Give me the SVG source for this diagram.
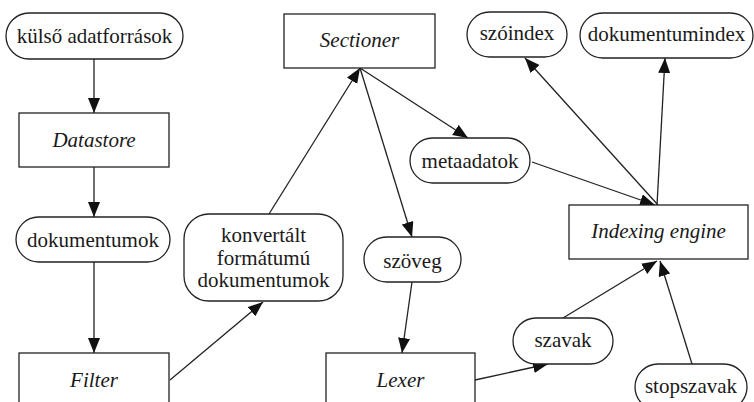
<svg xmlns="http://www.w3.org/2000/svg" width="754" height="402" viewBox="0 0 754 402">
  <style>
    .box { fill: #ffffff; stroke: #222222; stroke-width: 1.3; }
    .lbl { font-family: "Liberation Serif", "Times New Roman", serif; font-size: 21px; fill: #1a1a1a; text-anchor: middle; }
    .it { font-style: italic; }
    .edge { fill: none; stroke: #222222; stroke-width: 1.3; marker-end: url(#arrow); }
  </style>
  <defs>
    <!-- filled triangular arrowhead, tip on the line end -->
    <marker id="arrow" markerUnits="userSpaceOnUse" markerWidth="16" markerHeight="13" refX="15" refY="6" orient="auto">
      <path d="M0,0 L15,6 L0,12 z" fill="#111111"/>
    </marker>
  </defs>
  <rect width="754" height="402" fill="#ffffff"/>

  <g id="connectors">
    <line class="edge" x1="94" y1="59" x2="94" y2="113"/>
    <line class="edge" x1="94" y1="167" x2="94" y2="217"/>
    <line class="edge" x1="94" y1="262" x2="94" y2="353"/>
    <line class="edge" x1="170" y1="380" x2="263" y2="302"/>
    <line class="edge" x1="269" y1="214" x2="360" y2="68"/>
    <line class="edge" x1="360" y1="68" x2="468" y2="138"/>
    <line class="edge" x1="360" y1="68" x2="412" y2="237"/>
    <line class="edge" x1="412" y1="282" x2="402" y2="353"/>
    <line class="edge" x1="475" y1="380" x2="548" y2="364"/>
    <line class="edge" x1="563" y1="318" x2="657" y2="261"/>
    <line class="edge" x1="692" y1="364" x2="660" y2="261"/>
    <line class="edge" x1="532" y1="162" x2="655" y2="205"/>
    <line class="edge" x1="658" y1="205" x2="525" y2="58"/>
    <line class="edge" x1="657" y1="205" x2="665" y2="58"/>
  </g>

  <g id="kulso-adatforrasok">
    <rect class="box" x="6" y="13" width="177" height="46" rx="23"/>
    <text class="lbl" x="94.5" y="43">külső adatforrások</text>
  </g>
  <g id="datastore">
    <rect class="box" x="19" y="113" width="150" height="54"/>
    <text class="lbl it" x="94" y="147">Datastore</text>
  </g>
  <g id="dokumentumok">
    <rect class="box" x="16" y="217" width="154" height="45" rx="22.5"/>
    <text class="lbl" x="93" y="247">dokumentumok</text>
  </g>
  <g id="filter">
    <rect class="box" x="19" y="353" width="150" height="60"/>
    <text class="lbl it" x="94" y="387">Filter</text>
  </g>
  <g id="konvertalt">
    <rect class="box" x="184" y="214" width="159" height="87" rx="25"/>
    <text class="lbl" x="263.5" y="242">konvertált</text>
    <text class="lbl" x="263.5" y="264.5">formátumú</text>
    <text class="lbl" x="263.5" y="287">dokumentumok</text>
  </g>
  <g id="sectioner">
    <rect class="box" x="284" y="14" width="151" height="54"/>
    <text class="lbl it" x="359.5" y="47">Sectioner</text>
  </g>
  <g id="metaadatok">
    <rect class="box" x="410" y="138" width="120" height="45" rx="22.5"/>
    <text class="lbl" x="470" y="168">metaadatok</text>
  </g>
  <g id="szoveg">
    <rect class="box" x="364" y="237" width="97" height="45" rx="22.5"/>
    <text class="lbl" x="412.5" y="268">szöveg</text>
  </g>
  <g id="lexer">
    <rect class="box" x="326" y="353" width="149" height="60"/>
    <text class="lbl it" x="400.5" y="387">Lexer</text>
  </g>
  <g id="szavak">
    <rect class="box" x="513" y="318" width="100" height="46" rx="23"/>
    <text class="lbl" x="563" y="347">szavak</text>
  </g>
  <g id="indexing-engine">
    <rect class="box" x="569" y="205" width="179" height="54"/>
    <text class="lbl it" x="658.5" y="238">Indexing engine</text>
  </g>
  <g id="stopszavak">
    <rect class="box" x="635" y="364" width="112" height="46" rx="23"/>
    <text class="lbl" x="691" y="393">stopszavak</text>
  </g>
  <g id="szoindex">
    <rect class="box" x="467" y="12" width="100" height="45" rx="22.5"/>
    <text class="lbl" x="517" y="40">szóindex</text>
  </g>
  <g id="dokumentumindex">
    <rect class="box" x="580" y="13" width="173" height="45" rx="22.5"/>
    <text class="lbl" x="666.5" y="41">dokumentumindex</text>
  </g>
</svg>
